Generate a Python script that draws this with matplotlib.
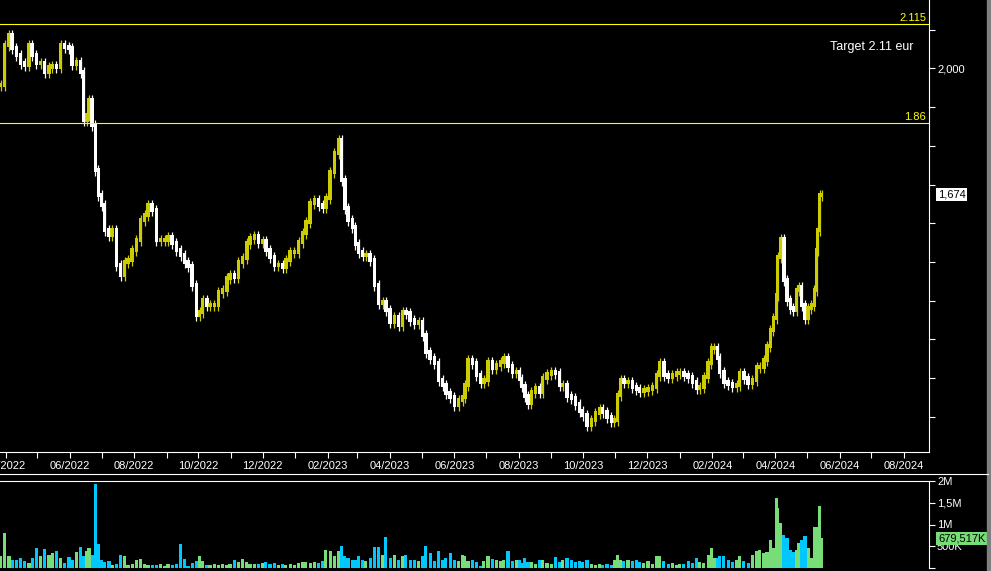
import numpy as np
import pandas as pd
import matplotlib
matplotlib.use('Agg')
import matplotlib.pyplot as plt
import matplotlib.dates as mdates
import matplotlib.transforms as mtransforms
from matplotlib.ticker import MultipleLocator, FuncFormatter, FixedLocator
from matplotlib.patches import Rectangle
from matplotlib.lines import Line2D

plt.rcParams['font.family'] = ['Liberation Sans', 'DejaVu Sans']

# samples: days after start, close (eur), volume (thousands)
start = '2022-03-27'
days = [0, 4, 8, 11, 15, 19, 23, 27, 30, 34, 38, 42, 46, 49, 53, 57, 61, 65, 68, 72,
        76, 79, 82, 84, 87, 90, 93, 96, 99, 103, 106, 110, 114, 118, 121, 125, 129, 133, 137, 140,
        144, 148, 152, 156, 159, 163, 167, 171, 175, 178, 182, 186, 189, 192, 196, 199, 203, 207, 211, 215,
        218, 222, 226, 230, 234, 237, 241, 245, 249, 252, 256, 260, 264, 268, 271, 275, 279, 283, 287, 290,
        294, 298, 302, 306, 309, 313, 317, 321, 324, 327, 330, 334, 337, 340, 344, 347, 351, 355, 359, 363,
        366, 370, 374, 378, 382, 385, 389, 393, 397, 401, 404, 408, 412, 416, 420, 423, 427, 431, 435, 439,
        441, 444, 448, 452, 456, 459, 463, 467, 471, 475, 478, 482, 486, 490, 493, 495, 498, 501, 504, 508,
        512, 515, 519, 523, 527, 531, 534, 538, 542, 546, 550, 553, 557, 561, 565, 569, 572, 576, 580, 583,
        586, 589, 592, 596, 600, 604, 607, 611, 615, 619, 623, 626, 630, 634, 638, 642, 645, 649, 653, 657,
        661, 664, 668, 672, 675, 678, 681, 683, 687, 691, 695, 699, 702, 706, 710, 714, 718, 721, 725, 728,
        731, 734, 737, 738, 741, 744, 747, 750, 753, 756, 758, 761, 764, 767, 770, 773, 775, 776, 778, 780]
close = [1.957, 2.061, 2.087, 2.053, 2.035, 2.014, 2.009, 2.061, 2.035, 2.014, 2.014, 1.991, 2.004, 2.006, 2.004, 2.061, 2.056, 2.053, 2.012, 2.017,
         1.991, 1.867, 1.880, 1.919, 1.854, 1.738, 1.673, 1.647, 1.583, 1.570, 1.583, 1.492, 1.466, 1.500, 1.505, 1.531, 1.557, 1.609, 1.621, 1.647,
         1.634, 1.557, 1.557, 1.557, 1.565, 1.549, 1.531, 1.518, 1.500, 1.490, 1.441, 1.363, 1.371, 1.402, 1.389, 1.389, 1.389, 1.422, 1.428, 1.459,
         1.466, 1.461, 1.500, 1.510, 1.549, 1.562, 1.567, 1.552, 1.554, 1.531, 1.513, 1.492, 1.492, 1.487, 1.505, 1.526, 1.526, 1.552, 1.575, 1.603,
         1.652, 1.660, 1.647, 1.642, 1.665, 1.733, 1.782, 1.815, 1.712, 1.640, 1.609, 1.590, 1.546, 1.526, 1.518, 1.518, 1.505, 1.441, 1.394, 1.397,
         1.376, 1.345, 1.358, 1.337, 1.371, 1.368, 1.350, 1.342, 1.345, 1.311, 1.267, 1.252, 1.239, 1.195, 1.182, 1.162, 1.151, 1.130, 1.143, 1.151,
         1.182, 1.247, 1.239, 1.208, 1.190, 1.195, 1.242, 1.226, 1.234, 1.242, 1.252, 1.231, 1.216, 1.216, 1.198, 1.180, 1.154, 1.136, 1.164, 1.174,
         1.164, 1.200, 1.211, 1.216, 1.213, 1.182, 1.182, 1.154, 1.149, 1.133, 1.115, 1.105, 1.079, 1.092, 1.110, 1.120, 1.112, 1.099, 1.089, 1.092,
         1.156, 1.195, 1.190, 1.190, 1.177, 1.172, 1.167, 1.169, 1.172, 1.177, 1.208, 1.239, 1.208, 1.203, 1.208, 1.213, 1.213, 1.208, 1.203, 1.190,
         1.174, 1.177, 1.203, 1.239, 1.278, 1.278, 1.252, 1.216, 1.190, 1.185, 1.180, 1.182, 1.213, 1.200, 1.187, 1.195, 1.229, 1.229, 1.247, 1.283,
         1.324, 1.355, 1.415, 1.513, 1.560, 1.453, 1.402, 1.381, 1.376, 1.428, 1.435, 1.389, 1.355, 1.381, 1.389, 1.428, 1.531, 1.583, 1.673, 1.674]
volume_k = [280, 810, 270, 190, 190, 230, 160, 115, 230, 460, 270, 440, 310, 350, 380, 230, 115, 250, 190, 370,
            490, 270, 380, 460, 300, 1930, 560, 190, 140, 160, 70, 100, 310, 280, 70, 100, 190, 210, 100, 70,
            70, 70, 90, 50, 90, 70, 100, 560, 210, 50, 115, 160, 270, 160, 70, 70, 100, 70, 90, 70,
            90, 190, 140, 210, 140, 100, 90, 100, 115, 140, 100, 115, 70, 100, 70, 90, 70, 115, 140, 140,
            115, 140, 115, 160, 420, 390, 270, 400, 500, 270, 230, 180, 190, 270, 180, 160, 230, 490, 490, 310,
            720, 230, 300, 180, 270, 310, 180, 180, 160, 270, 510, 350, 160, 390, 180, 230, 350, 180, 160, 300,
            280, 160, 180, 140, 50, 160, 270, 210, 180, 160, 180, 380, 160, 180, 190, 115, 240, 140, 140, 100,
            180, 190, 115, 100, 250, 140, 180, 230, 190, 140, 160, 140, 180, 100, 70, 100, 70, 90, 70, 190,
            310, 190, 160, 190, 160, 190, 140, 115, 160, 100, 270, 280, 160, 100, 115, 70, 100, 100, 160, 115,
            230, 140, 115, 310, 460, 230, 230, 270, 280, 180, 140, 180, 270, 160, 115, 310, 390, 420, 350, 370,
            650, 460, 1620, 1390, 1040, 770, 690, 420, 370, 420, 580, 650, 730, 460, 230, 950, 950, 810, 1430, 680]

target_level = 2.115
resistance_level = 1.86
last_close = 1.674
last_volume = 679517

dates = pd.Timestamp(start) + pd.to_timedelta(days, unit='D')
x = mdates.date2num(dates.to_pydatetime())
close = np.array(close)
prev = np.concatenate([[close[0]], close[:-1]])
up = close >= prev

yellow = '#cccc00'
candle_colors = np.where(up, yellow, 'white')
vol_colors = np.where(up, '#77dd77', '#00c8ff')

fig = plt.figure(figsize=(9.91, 5.71), dpi=100, facecolor='black')
ax = fig.add_axes([0, 1 - 452 / 571, 929 / 991, 452 / 571], facecolor='black')
axv = fig.add_axes([0, 1 - 568 / 571, 929 / 991, 87 / 571], facecolor='black', sharex=ax)

# price candles
pad = 0.005
lo = np.minimum(prev, close)
hi = np.maximum(prev, close)
ax.vlines(x, lo - 0.015, hi + 0.013, colors=candle_colors, lw=0.9)
ax.bar(x, hi - lo + 2 * pad, bottom=lo - pad, width=3.2, color=candle_colors, linewidth=0)

ax.axhline(target_level, color='#ffff00', lw=0.8)
ax.axhline(resistance_level, color='#ffff00', lw=0.8)
blend = mtransforms.blended_transform_factory(ax.transAxes, ax.transData)
ax.text(0.997, target_level + 0.002, '2.115', transform=blend, ha='right', va='bottom',
        color='#ffff00', fontsize=8)
ax.text(0.997, resistance_level + 0.002, '1.86', transform=blend, ha='right', va='bottom',
        color='#ffff00', fontsize=8)
ax.text(830 / 929, 1 - 47 / 452, 'Target 2.11 eur', transform=ax.transAxes, ha='left', va='center',
        color='white', fontsize=9)
ax.text(1 + 9 / 929, last_close, '1,674', transform=blend, ha='left', va='center', color='black',
        fontsize=8, bbox=dict(boxstyle='square,pad=0.15', fc='white', ec='none'), clip_on=False)

ax.set_ylim(1.009, 2.177)
ax.set_xlim(x[0] - 0.5, mdates.date2num(pd.Timestamp(start) + pd.Timedelta(days=881.8)))
ax.yaxis.tick_right()
ax.yaxis.set_major_locator(MultipleLocator(0.1))
ax.yaxis.set_major_formatter(FuncFormatter(lambda v, p: '2,000' if abs(v - 2.0) < 1e-6 else ''))
ax.xaxis.set_major_locator(mdates.MonthLocator(bymonth=range(2, 13, 2)))
ax.xaxis.set_minor_locator(mdates.MonthLocator())
ax.xaxis.set_major_formatter(mdates.DateFormatter('%m/%Y'))
ax.tick_params(axis='both', which='both', colors='white', length=4.3, width=0.8, labelsize=8)
ax.tick_params(axis='x', pad=2)
ax.tick_params(axis='y', pad=1.5)
for s in ['left', 'top']:
    ax.spines[s].set_visible(False)
for s in ['right', 'bottom']:
    ax.spines[s].set_color('white')
    ax.spines[s].set_linewidth(0.8)

# volume
axv.bar(x, np.array(volume_k) * 1000, width=3.0, color=vol_colors, linewidth=0)
axv.set_ylim(0, 2000000)
axv.yaxis.tick_right()
axv.yaxis.set_major_locator(FixedLocator([0, 500000, 1000000, 1500000, 2000000]))
axv.yaxis.set_major_formatter(FuncFormatter(
    lambda v, p: {500000: '500K', 1000000: '1M', 1500000: '1,5M', 2000000: '2M'}.get(int(round(v)), '')))
axv.tick_params(axis='y', colors='white', length=4.3, width=0.8, labelsize=8, pad=1.5)
axv.tick_params(axis='x', which='both', bottom=False, labelbottom=False)
for s in ['left', 'bottom']:
    axv.spines[s].set_visible(False)
for s in ['right', 'top']:
    axv.spines[s].set_color('white')
    axv.spines[s].set_linewidth(0.8)
axv.text(1 + 9 / 929, last_volume, '679,517K', transform=mtransforms.blended_transform_factory(
    axv.transAxes, axv.transData), ha='left', va='center', color='black', fontsize=8,
    bbox=dict(boxstyle='square,pad=0.15', fc='#77dd77', ec='none'), clip_on=False)

fig.add_artist(Line2D([0, 988 / 991], [1 - 474 / 571] * 2, color='white', lw=0.8))
fig.patches.append(Rectangle((987 / 991, 0), 4 / 991, 1, transform=fig.transFigure,
                             color='#7f7f7f'))

fig.savefig('out.png', dpi=100, facecolor='black')
